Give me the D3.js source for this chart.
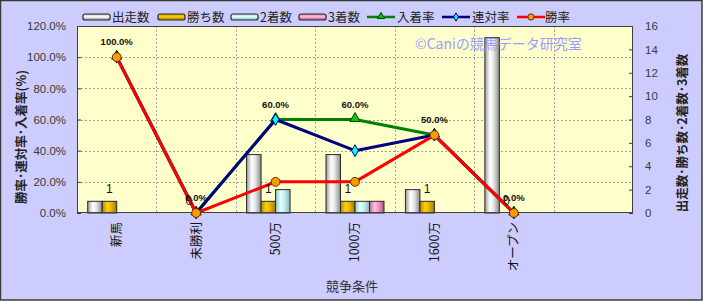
<!DOCTYPE html>
<html><head><meta charset="utf-8">
<script src="https://cdn.jsdelivr.net/npm/d3@7"></script>
<style>
html,body{margin:0;padding:0;background:#fff;}
svg{display:block;}
</style></head>
<body>
<svg id="chart" width="703" height="301"></svg>
<script>
// ---- data ----
const categories = ["新馬","未勝利","500万","1000万","1600万","オープン"];
const starts  = [1, 0, 5, 5, 2, 15];   // 出走数
const wins    = [1, 0, 1, 1, 1, 0];    // 勝ち数
const seconds = [0, 0, 2, 1, 0, 0];    // 2着数
const thirds  = [0, 0, 0, 1, 0, 0];    // 3着数
const placeRate  = [1.0, 0, 0.6, 0.6, 0.5, 0]; // 入着率
const rentaiRate = [1.0, 0, 0.6, 0.4, 0.5, 0]; // 連対率
const winRate    = [1.0, 0, 0.2, 0.2, 0.5, 0]; // 勝率
const leftTicks  = [0, 0.2, 0.4, 0.6, 0.8, 1.0, 1.2];
const rightTicks = [0, 2, 4, 6, 8, 10, 12, 14, 16];
const barSeriesNames  = ["出走数","勝ち数","2着数","3着数"];
const lineSeriesNames = ["入着率","連対率","勝率"];

const W = 703, H = 301;
const svg = d3.select("#chart");
const plot = {l: 77, r: 633, t: 26, b: 213};
const jp = "'Noto Sans CJK JP','DejaVu Sans',sans-serif";
const lat = "'Liberation Sans',Arial,sans-serif";

// background
svg.append("rect").attr("x",0.5).attr("y",0.5).attr("width",W-1.5).attr("height",H-1.5)
  .attr("fill","#ccccff").attr("stroke","#3a3a3a").attr("stroke-width",1.5);
svg.append("rect").attr("x",plot.l).attr("y",plot.t).attr("width",plot.r-plot.l).attr("height",plot.b-plot.t)
  .attr("fill","#ffffcc");

// gradients
const defs = svg.append("defs");
const barStyles = [
  {id:"g0", stops:["#9a9a9a","#ffffff","#e6e6e6","#8a8a8a"]},
  {id:"g1", stops:["#b08800","#ffd200","#e8b800","#a07800"]},
  {id:"g2", stops:["#88c8c8","#e8ffff","#c8f0f0","#80b8b8"]},
  {id:"g3", stops:["#c06090","#ffc0dc","#f0a0c4","#b05080"]}
];
barStyles.forEach(s=>{
  const g = defs.append("linearGradient").attr("id",s.id).attr("x1","0").attr("x2","1").attr("y1","0").attr("y2","0");
  [0,0.35,0.6,1].forEach((o,i)=>g.append("stop").attr("offset",o).attr("stop-color",s.stops[i]));
  const gv = defs.append("linearGradient").attr("id",s.id+"v").attr("x1","0").attr("x2","0").attr("y1","0").attr("y2","1");
  [0,0.35,0.6,1].forEach((o,i)=>gv.append("stop").attr("offset",o).attr("stop-color",s.stops[i]));
});

// scales
const xDomain = categories.concat([""]);
const x = d3.scaleBand().domain(xDomain).range([plot.l, plot.r]).padding(0);
const yL = d3.scaleLinear().domain([0, 1.2]).range([plot.b, plot.t]);
const yR = d3.scaleLinear().domain([0, 16]).range([plot.b, plot.t]);
const bw = x.bandwidth();
const groupW = 58;
const xs = d3.scaleBand().domain(barSeriesNames).range([(bw-groupW)/2, (bw+groupW)/2]).padding(0);

// grid
const grid = svg.append("g").attr("stroke","#a0a0a0").attr("stroke-dasharray","2,2").attr("stroke-width",1);
leftTicks.slice(1,-1).forEach(t=>{
  grid.append("line").attr("x1",plot.l).attr("x2",plot.r).attr("y1",Math.round(yL(t))+0.5).attr("y2",Math.round(yL(t))+0.5);
});
xDomain.slice(1).forEach(c=>{
  const xx = Math.round(x(c))+0.5;
  grid.append("line").attr("x1",xx).attr("x2",xx).attr("y1",plot.t).attr("y2",plot.b);
});

// axes
const axL = svg.append("g").attr("transform",`translate(${plot.l},0)`)
  .call(d3.axisLeft(yL).tickValues(leftTicks).tickFormat(d=>d3.format(".1f")(d*100)+"%").tickSize(-4).tickPadding(11));
axL.select(".domain").remove();
axL.selectAll("line").attr("stroke","#404040");
axL.selectAll("text").attr("font-family",lat).attr("font-size",11.5).attr("fill","#3a3a3a");

const axR = svg.append("g").attr("transform",`translate(${plot.r},0)`)
  .call(d3.axisRight(yR).tickValues(rightTicks).tickSize(-4).tickPadding(12));
axR.select(".domain").remove();
axR.selectAll("line").attr("stroke","#404040");
axR.selectAll("text").attr("font-family",lat).attr("font-size",11.5).attr("fill","#3a3a3a");

// bars
const barData = [starts, wins, seconds, thirds];
const barsG = svg.append("g");
barData.forEach((vals, si)=>{
  barsG.selectAll(null).data(vals.map((v,i)=>({v, c: categories[i]}))).enter()
    .filter(d=>d.v>0)
    .append("rect")
    .attr("x", d=>x(d.c)+xs(barSeriesNames[si]))
    .attr("y", d=>yR(d.v))
    .attr("width", xs.bandwidth())
    .attr("height", d=>plot.b - yR(d.v))
    .attr("fill", `url(#g${si})`)
    .attr("stroke","#2a2a2a").attr("stroke-width",1);
});

// plot border
svg.append("rect").attr("x",plot.l+0.5).attr("y",plot.t+0.5).attr("width",plot.r-plot.l-1).attr("height",plot.b-plot.t-1)
  .attr("fill","none").attr("stroke","#404040").attr("stroke-width",1);

// watermark
svg.append("text").attr("x",415).attr("y",49).text("©Caniの競馬データ研究室")
  .attr("font-family",jp).attr("font-size",14).attr("fill","#9c9cff");

// lines
const cx = c => x(c) + bw/2;
const lineStyles = [
  {vals: placeRate, color:"#008000", marker:"triangle", fill:"#00cc00", mstroke:"#004000"},
  {vals: rentaiRate, color:"#000080", marker:"diamond", fill:"#00ffff", mstroke:"#000060"},
  {vals: winRate, color:"#ff0000", marker:"circle", fill:"#ff9900", mstroke:"#5a3000"}
];
function markerPath(type, s){
  if(type==="triangle") return d3.symbol(d3.symbolTriangle, s*s*0.45)();
  if(type==="diamond") return d3.symbol(d3.symbolDiamond, s*s*0.4)();
  return d3.symbol(d3.symbolCircle, s*s*0.62)();
}
const lineGen = d3.line().x((d,i)=>cx(categories[i])).y(d=>yL(d));
lineStyles.forEach(ls=>{
  svg.append("path").attr("d", lineGen(ls.vals)).attr("fill","none")
    .attr("stroke", ls.color).attr("stroke-width",3).attr("stroke-linejoin","round");
  ls.vals.forEach((v,i)=>{
    const yy = yL(v) + (ls.marker==="triangle" ? -1 : 0);
    svg.append("path").attr("d", markerPath(ls.marker, 10))
      .attr("transform",`translate(${cx(categories[i])},${yy})`)
      .attr("fill", ls.fill).attr("stroke", ls.mstroke).attr("stroke-width",1);
  });
});

// labels: rate (入着率)
placeRate.forEach((v,i)=>{
  svg.append("text").attr("x", cx(categories[i])).attr("y", yL(v)-12)
    .attr("text-anchor","middle").attr("font-family",lat).attr("font-size",9.5).attr("font-weight","bold")
    .attr("fill","#111").text(d3.format(".1f")(v*100)+"%");
});
// labels: wins bars
wins.forEach((v,i)=>{
  svg.append("text").attr("x", x(categories[i])+xs("勝ち数")+xs.bandwidth()/2).attr("y", yR(v)-8)
    .attr("text-anchor","middle").attr("font-family",lat).attr("font-size",12)
    .attr("fill","#111").text(v);
});

// x category labels
categories.forEach(c=>{
  svg.append("text").attr("transform",`translate(${cx(c)},222) rotate(-90)`)
    .attr("text-anchor","end").attr("dy","0.35em")
    .attr("font-family",jp).attr("font-size",12.5).attr("fill","#111").text(c);
});

// axis titles
svg.append("text").attr("x",352).attr("y",291).attr("text-anchor","middle")
  .attr("font-family",jp).attr("font-size",13).attr("fill","#333").text("競争条件");
svg.append("text").attr("transform","translate(22,137) rotate(-90)").attr("text-anchor","middle").attr("dy","0.35em")
  .attr("font-family",jp).attr("font-size",12.5).attr("font-weight","bold").attr("fill","#222").text("勝率･連対率･入着率(%)");
svg.append("text").attr("transform","translate(683,133) rotate(-90)").attr("text-anchor","middle").attr("dy","0.35em")
  .attr("font-family",jp).attr("font-size",12.5).attr("font-weight","bold").attr("fill","#222").text("出走数･勝ち数･2着数･3着数");

// legend
const leg = svg.append("g");
const legBar = [{x:83, t:112},{x:158,t:187},{x:231,t:260},{x:299,t:328}];
barSeriesNames.forEach((n,i)=>{
  leg.append("rect").attr("x",legBar[i].x).attr("y",14).attr("width",27).attr("height",6).attr("rx",2)
    .attr("fill",`url(#g${i}v)`).attr("stroke","#2a2a2a").attr("stroke-width",1.2);
  leg.append("text").attr("x",legBar[i].t).attr("y",22).text(n)
    .attr("font-family",jp).attr("font-size",12.5).attr("fill","#222");
});
const legLine = [{x:367,t:397},{x:442,t:472},{x:517,t:545}];
lineSeriesNames.forEach((n,i)=>{
  const ls = lineStyles[i];
  leg.append("line").attr("x1",legLine[i].x).attr("x2",legLine[i].x+28).attr("y1",17).attr("y2",17)
    .attr("stroke",ls.color).attr("stroke-width",2.5);
  leg.append("path").attr("d", markerPath(ls.marker, 7))
    .attr("transform",`translate(${legLine[i].x+14},${17 + (ls.marker==="triangle"?-0.5:0)})`)
    .attr("fill", ls.fill).attr("stroke", ls.mstroke).attr("stroke-width",1);
  leg.append("text").attr("x",legLine[i].t).attr("y",22).text(n)
    .attr("font-family",jp).attr("font-size",12.5).attr("fill","#222");
});
</script>
</body></html>
